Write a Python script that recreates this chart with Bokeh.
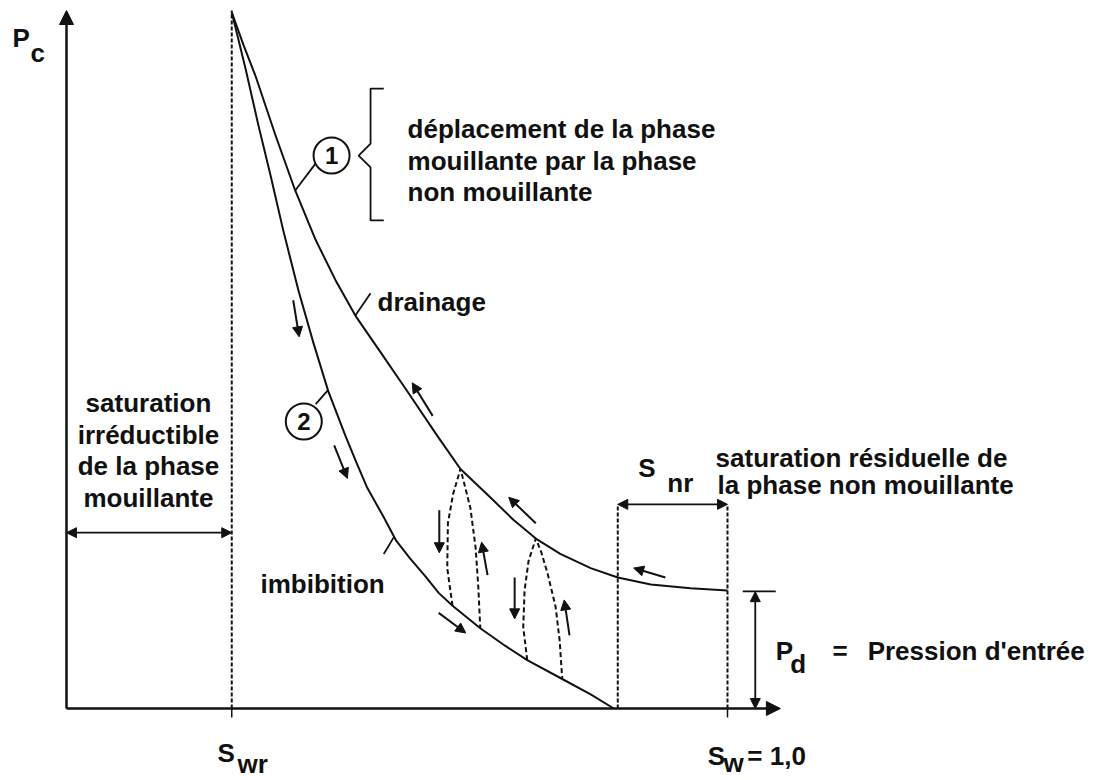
from bokeh.plotting import figure
from bokeh.models import Range1d, ColumnDataSource, Arrow, NormalHead
from bokeh.core.properties import value
from bokeh.embed import file_html
from bokeh.resources import INLINE

# ---- data: water saturation Sw (0..1) and capillary pressure Pc (in units of Pd) ----
S_WR = 0.25          # irreducible wetting saturation
S_W1 = 1.0           # Sw = 1,0
S_NR_START = 0.834   # 1 - Snr
PD = 1.0             # entry pressure
PC_TOP = 5.915       # top of Pc axis
SW_AXIS_END = 1.08   # end of Sw axis

drain_sw = [0.25, 0.268, 0.286, 0.316, 0.346, 0.377, 0.407, 0.437, 0.475, 0.513, 0.561,
            0.596, 0.641, 0.676, 0.710, 0.747, 0.793, 0.834, 0.884, 0.944, 1.0]
drain_pc = [5.90, 5.62, 5.36, 4.86, 4.39, 3.97, 3.63, 3.33, 3.02, 2.71, 2.31,
            2.03, 1.79, 1.60, 1.44, 1.31, 1.19, 1.11, 1.05, 1.02, 1.0]

imb_sw = [0.25, 0.271, 0.290, 0.309, 0.328, 0.351, 0.374, 0.396, 0.422, 0.439, 0.455,
          0.480, 0.499, 0.520, 0.543, 0.563, 0.584, 0.626, 0.664, 0.697, 0.750, 0.793, 0.828]
imb_pc = [5.90, 5.42, 4.95, 4.51, 4.05, 3.54, 3.09, 2.69, 2.31, 2.08, 1.87,
          1.62, 1.42, 1.27, 1.12, 0.98, 0.87, 0.68, 0.53, 0.41, 0.25, 0.12, 0.0]

scan1_sw = [0.584, 0.576, 0.577, 0.585, 0.596, 0.602, 0.611, 0.619, 0.623, 0.626]
scan1_pc = [0.87, 1.19, 1.57, 1.82, 2.03, 1.90, 1.70, 1.36, 1.03, 0.68]
scan2_sw = [0.697, 0.691, 0.693, 0.699, 0.710, 0.718, 0.728, 0.740, 0.746, 0.750]
scan2_pc = [0.41, 0.69, 1.00, 1.25, 1.44, 1.33, 1.14, 0.86, 0.58, 0.25]

# direction arrows (tail -> head)
arr_x0 = [0.343, 0.405, 0.554, 0.563, 0.564, 0.637, 0.678, 0.761, 0.710, 0.906]
arr_y0 = [3.46, 2.23, 2.48, 0.81, 1.68, 1.13, 1.11, 0.62, 1.57, 1.11]
arr_x1 = [0.352, 0.425, 0.523, 0.604, 0.564, 0.628, 0.678, 0.753, 0.669, 0.858]
arr_y1 = [3.15, 1.95, 2.76, 0.64, 1.32, 1.41, 0.76, 0.92, 1.79, 1.19]

# double-headed dimension arrows
dim_x0 = [0.0, S_NR_START, 1.042]
dim_y0 = [1.49, 1.73, 0.99]
dim_x1 = [S_WR, S_W1, 1.042]
dim_y1 = [1.49, 1.73, 0.0]

# brace next to circle 1
brace_sw = [0.480, 0.460, 0.460, 0.442, 0.460, 0.460, 0.480]
brace_pc = [5.254, 5.254, 4.788, 4.686, 4.585, 4.136, 4.136]

# leaders (start on curve -> end at label)
lead_x0 = [0.346, 0.396, 0.437, 0.495]
lead_y0 = [4.39, 2.70, 3.33, 1.45]
lead_x1 = [0.377, 0.377, 0.460, 0.480]
lead_y1 = [4.62, 2.58, 3.52, 1.31]

circ_sw = [0.401, 0.359]
circ_pc = [4.686, 2.432]
circ_txt = ["1", "2"]

# labels
lab_txt = ["déplacement de la phase", " mouillante par la phase", "non mouillante",
           "drainage", "imbibition",
           "saturation résiduelle de", "la phase non mouillante",
           "S", "nr", "P", "d", "=", "Pression d'entrée",
           "P", "c", "S", "wr", "S", "w", "= 1,0"]
lab_sw = [0.516, 0.516, 0.516,
          0.4705, 0.2935,
          0.982, 0.985,
          0.865, 0.909, 1.073, 1.095, 1.159, 1.212,
          -0.0817, -0.0545, 0.2284, 0.2587, 0.970, 0.994, 1.030]
lab_pc = [4.915, 4.644, 4.381,
          3.449, 1.059,
          2.119, 1.890,
          2.042, 1.915, 0.4915, 0.381, 0.4915, 0.4915,
          5.686, 5.559, -0.373, -0.470, -0.400, -0.465, -0.400]

left_txt = ["saturation", "irréductible", "de la phase", "mouillante"]
left_pc = [2.585, 2.322, 2.059, 1.788]
LEFT_SW = 0.124

FONT = "Liberation Sans"

p = figure(width=1100, height=778, output_backend="svg", toolbar_location=None,
           x_range=Range1d(-0.09985, 1.56430), y_range=Range1d(-0.5932, 6.0),
           x_axis_location=None, y_axis_location=None, min_border=0)
p.grid.visible = False
p.outline_line_color = None
p.background_fill_color = "white"
p.border_fill_color = "white"

BLACK = "#111111"

# axes with arrows
p.add_layout(Arrow(x_start=0, y_start=0, x_end=SW_AXIS_END, y_end=0, line_width=2.5,
                   line_color=BLACK,
                   end=NormalHead(size=14, fill_color=BLACK, line_color=BLACK)))
p.add_layout(Arrow(x_start=0, y_start=0, x_end=0, y_end=PC_TOP, line_width=2.5,
                   line_color=BLACK,
                   end=NormalHead(size=14, fill_color=BLACK, line_color=BLACK)))

# dashed reference lines
p.segment(x0=[S_WR, S_NR_START, S_W1], y0=[0, 0, 0],
          x1=[S_WR, S_NR_START, S_W1], y1=[PC_TOP, dim_y0[1], dim_y0[1]],
          line_dash="4 2", line_width=2, line_color=BLACK)
# ticks under the axis
p.segment(x0=[S_WR, S_W1], y0=[0, 0], x1=[S_WR, S_W1], y1=[-0.076, -0.076],
          line_width=1.5, line_color=BLACK)
# Pd bar
p.segment(x0=[1.023], y0=[PD - 0.008], x1=[1.073], y1=[PD - 0.008],
          line_width=1.8, line_color=BLACK)

# main curves
p.line(drain_sw, drain_pc, line_width=2, line_color=BLACK, line_join="round")
p.line(imb_sw, imb_pc, line_width=2, line_color=BLACK, line_join="round")
p.line(scan1_sw, scan1_pc, line_width=2, line_color=BLACK, line_dash="5 3")
p.line(scan2_sw, scan2_pc, line_width=2, line_color=BLACK, line_dash="5 3")

# brace and leaders
p.line(brace_sw, brace_pc, line_width=1.8, line_color=BLACK)
p.segment(x0=lead_x0, y0=lead_y0, x1=lead_x1, y1=lead_y1, line_width=1.8, line_color=BLACK)

# circled numbers
p.scatter(circ_sw, circ_pc, marker="circle", size=36, fill_color="white",
          line_color=BLACK, line_width=2)
p.text(circ_sw, circ_pc, text=circ_txt, text_align="center", text_baseline="middle",
       text_font=value(FONT), text_font_style="bold", text_font_size="24px",
       text_color=BLACK)

# direction arrows
arr_src = ColumnDataSource(dict(x0=arr_x0, y0=arr_y0, x1=arr_x1, y1=arr_y1))
p.add_layout(Arrow(source=arr_src, x_start="x0", y_start="y0", x_end="x1", y_end="y1",
                   line_width=2, line_color=BLACK,
                   end=NormalHead(size=10, fill_color=BLACK, line_color=BLACK)))

# dimension arrows
dim_src = ColumnDataSource(dict(x0=dim_x0, y0=dim_y0, x1=dim_x1, y1=dim_y1))
p.add_layout(Arrow(source=dim_src, x_start="x0", y_start="y0", x_end="x1", y_end="y1",
                   line_width=1.8, line_color=BLACK,
                   start=NormalHead(size=10, fill_color=BLACK, line_color=BLACK),
                   end=NormalHead(size=10, fill_color=BLACK, line_color=BLACK)))

# labels
p.text(lab_sw, lab_pc, text=lab_txt, text_align="left", text_baseline="alphabetic",
       text_font=value(FONT), text_font_style="bold", text_font_size="26px",
       text_color=BLACK)
p.text([LEFT_SW] * len(left_txt), left_pc, text=left_txt, text_align="center",
       text_baseline="alphabetic", text_font=value(FONT), text_font_style="bold",
       text_font_size="26px", text_color=BLACK)

open("out.html", "w").write(file_html(p, INLINE))
